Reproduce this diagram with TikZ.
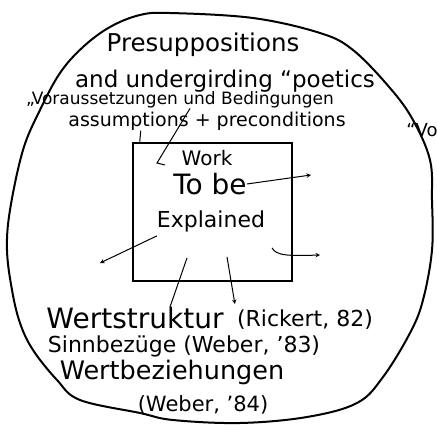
\documentclass[tikz,border=0pt]{standalone}
\usepackage{fontspec}
\usepackage{tikz}
\setmainfont{DejaVu Sans}

\begin{document}
\begin{tikzpicture}[x=1pt, y=-1pt,
    hand/.style={inner sep=0pt, align=center},
    workbox/.style={draw, line width=2.5pt, minimum width=159pt, minimum height=138pt},
    pointer/.style={->, >=stealth, line width=1pt},
]
\useasboundingbox (0,0) rectangle (437,434);

% Outer circle
\draw[line width=2pt] plot[smooth cycle, tension=0.6] coordinates {
    (140,15) (170,13) (253,18) (320,33) (353,50) (390,88) (413,120)
    (430,160) (432,200) (432,250) (423,300) (410,333) (383,377)
    (357,403) (307,417) (240,423) (173,420) (140,413) (80,400)
    (57,380) (33,350) (20,323) (12,290) (7,250) (10,210) (23,150)
    (40,110) (60,73) (83,47) (110,27)};

% Presuppositions
\node[hand, font=\fontsize{24.5}{26}\selectfont] (pres) at (203,45) {Presuppositions};
\node[hand, font=\fontsize{23}{25}\selectfont] (und) at (225,81) {and undergirding “poetics};
\node[hand, font=\fontsize{17}{19}\selectfont] (vor) at (180,100) {„Voraussetzungen und Bedingungen};
\node[hand, font=\fontsize{19}{21}\selectfont] (assume) at (207,121) {assumptions + preconditions};
\node[hand, font=\fontsize{18}{20}\selectfont] (vo) at (422,130) {“Vo};

% Work to be explained
\node[workbox] (work) at (212.5,212) {};
\node[hand, font=\fontsize{20}{22}\selectfont] (wk) at (207,158) {Work};
\node[hand, font=\fontsize{28}{30}\selectfont] (tobe) at (210,184) {To be};
\node[hand, font=\fontsize{22}{24}\selectfont] (expl) at (211,221) {Explained};

% Value relations
\node[hand, font=\fontsize{28}{30}\selectfont] (ws) at (135,318) {Wertstruktur};
\node[hand, font=\fontsize{22}{24}\selectfont] (rick) at (305,320) {(Rickert, 82)};
\node[hand, font=\fontsize{22}{24}\selectfont] (sinn) at (184,346) {Sinnbezüge (Weber, ’83)};
\node[hand, font=\fontsize{25.5}{27}\selectfont] (wb) at (172,372) {Wertbeziehungen};
\node[hand, font=\fontsize{21}{23}\selectfont] (web) at (203,405) {(Weber, ’84)};

% Arrows
\coordinate (into) at (157,163);
\coordinate (tober) at (311,175);
\coordinate (expll) at (100,263);
\coordinate (explr) at (320,255);
\coordinate (d1) at (187,258);
\coordinate (d2) at (227,257);

\draw[line width=1pt] ([xshift=10pt]vor.south) -- (into) -- ++(8,2);
\draw[line width=1pt] ([xshift=8pt]work.north west) -- ++(1,-11);
\draw[pointer] (tobe.east) -- (tober);
\draw[pointer] ([shift={(-54pt,-4pt)}]expl.south) -- (expll);
\draw[pointer] ([shift={(61pt,-16pt)}]expl.south) .. controls (276,256) and (290,256) .. (explr);
\draw[line width=1pt] (d1) -- ([xshift=35pt]ws.north);
\draw[pointer] (d2) -- ([xshift=-2pt, yshift=6pt]rick.north west);

\end{tikzpicture}
\end{document}
